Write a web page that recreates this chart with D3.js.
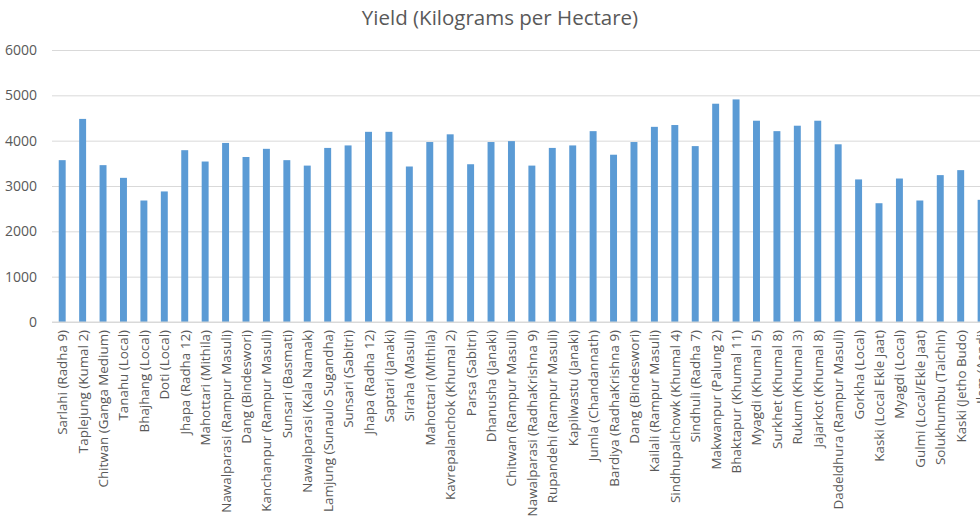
<!DOCTYPE html>
<html>
<head>
<meta charset="utf-8">
<script src="https://cdn.jsdelivr.net/npm/d3@7"></script>
<style>
  body { margin: 0; background: #fff; }
  svg { display: block; font-family: "Open Sans", sans-serif; }
</style>
</head>
<body>
<svg id="chart" width="980" height="517"></svg>
<script>
// district (variety) labels along the x axis
const districts = [
  "Sarlahi (Radha 9)", "Taplejung (Kumal 2)", "Chitwan (Ganga Medium)", "Tanahu (Local)",
  "Bhajhang (Local)", "Doti (Local)", "Jhapa (Radha 12)", "Mahottari (Mithila)",
  "Nawalparasi (Rampur Masuli)", "Dang (Bindeswori)", "Kanchanpur (Rampur Masuli)",
  "Sunsari (Basmati)", "Nawalparasi (Kala Namak)", "Lamjung (Sunaulo Sugandha)",
  "Sunsari (Sabitri)", "Jhapa (Radha 12)", "Saptari (Janaki)", "Siraha (Masuli)",
  "Mahottari (Mithila)", "Kavrepalanchok (Khumal 2)", "Parsa (Sabitri)", "Dhanusha (Janaki)",
  "Chitwan (Rampur Masuli)", "Nawalparasi (RadhaKrishna 9)", "Rupandehi (Rampur Masuli)",
  "Kapilwastu (Janaki)", "Jumla (Chandannath)", "Bardiya (RadhaKrishna 9)", "Dang (Bindeswori)",
  "Kailali (Rampur Masuli)", "Sindhupalchowk (Khumal 4)", "Sindhuli (Radha 7)",
  "Makwanpur (Palung 2)", "Bhaktapur (Khumal 11)", "Myagdi (Khumal 5)", "Surkhet (Khumal 8)",
  "Rukum (Khumal 3)", "Jajarkot (Khumal 8)", "Dadeldhura (Rampur Masuli)", "Gorkha (Local)",
  "Kaski (Local Ekle Jaat)", "Myagdi (Local)", "Gulmi (Local/Ekle Jaat)", "Solukhumbu (Taichin)",
  "Kaski (Jetho Budo)", "Ilam (Aandi)"
];

// yield in kg per hectare, one per district above
const yields = [
  3570, 4480, 3460, 3180, 2680, 2880, 3790, 3540, 3950, 3640, 3820,
  3570, 3450, 3840, 3895, 4195, 4195, 3430, 3970, 4140, 3480, 3970,
  3990, 3450, 3840, 3895, 4210, 3690, 3970, 4305, 4345, 3880, 4815,
  4910, 4440, 4210, 4330, 4440, 3920, 3145, 2620, 3165, 2680, 3240,
  3350, 2695
];

const yTicks = [0, 1000, 2000, 3000, 4000, 5000, 6000];

const data = districts.map((name, i) => ({ id: i, name, value: yields[i] }));

const svg = d3.select("#chart");
const width = 980;
const marginLeft = 52;
const plotTop = 50;
const plotBottom = 322;
const step = 20.42;

const x = d3
  .scaleBand()
  .domain(data.map(d => d.id))
  .range([marginLeft, marginLeft + step * data.length])
  .paddingInner(0.66)
  .paddingOuter(0.33);

const y = d3.scaleLinear().domain([0, 6000]).range([plotBottom, plotTop]);

// title
svg
  .append("text")
  .attr("x", 500)
  .attr("y", 25)
  .attr("text-anchor", "middle")
  .attr("fill", "#595959")
  .style("font-size", "20.5px")
  .text("Yield (Kilograms per Hectare)");

// gridlines + y labels
const yAxis = d3
  .axisLeft(y)
  .tickValues(yTicks)
  .tickSize(-(width - marginLeft))
  .tickPadding(15)
  .tickFormat(d3.format("d"));

const gy = svg
  .append("g")
  .attr("transform", `translate(${marginLeft},0)`)
  .call(yAxis);
gy.select(".domain").remove();
gy.selectAll(".tick line").attr("stroke", "#d9d9d9").attr("stroke-width", 1);
gy.selectAll(".tick text")
  .attr("fill", "#595959")
  .style("font-size", "14px")
  .style("font-family", "'Open Sans', sans-serif");

// bars
svg
  .append("g")
  .selectAll("rect")
  .data(data)
  .join("rect")
  .attr("x", d => x(d.id))
  .attr("y", d => y(d.value))
  .attr("width", x.bandwidth())
  .attr("height", d => y(0) - y(d.value))
  .attr("fill", "#5b9bd5");

// category labels, rotated
const xAxis = d3
  .axisBottom(x)
  .tickSize(0)
  .tickPadding(0)
  .tickFormat(i => districts[i]);

const gx = svg
  .append("g")
  .attr("transform", `translate(0,${plotBottom})`)
  .call(xAxis);
gx.select(".domain").remove();
gx.selectAll(".tick text")
  .attr("fill", "#595959")
  .style("font-size", "13.4px")
  .style("font-family", "'Open Sans', sans-serif")
  .attr("text-anchor", "end")
  .attr("dy", null)
  .attr("y", 0)
  .attr("transform", "translate(5,8) rotate(-90)");

// baseline at zero
svg
  .append("line")
  .attr("x1", marginLeft)
  .attr("x2", width)
  .attr("y1", y(0))
  .attr("y2", y(0))
  .attr("stroke", "#d9d9d9");
</script>
</body>
</html>
